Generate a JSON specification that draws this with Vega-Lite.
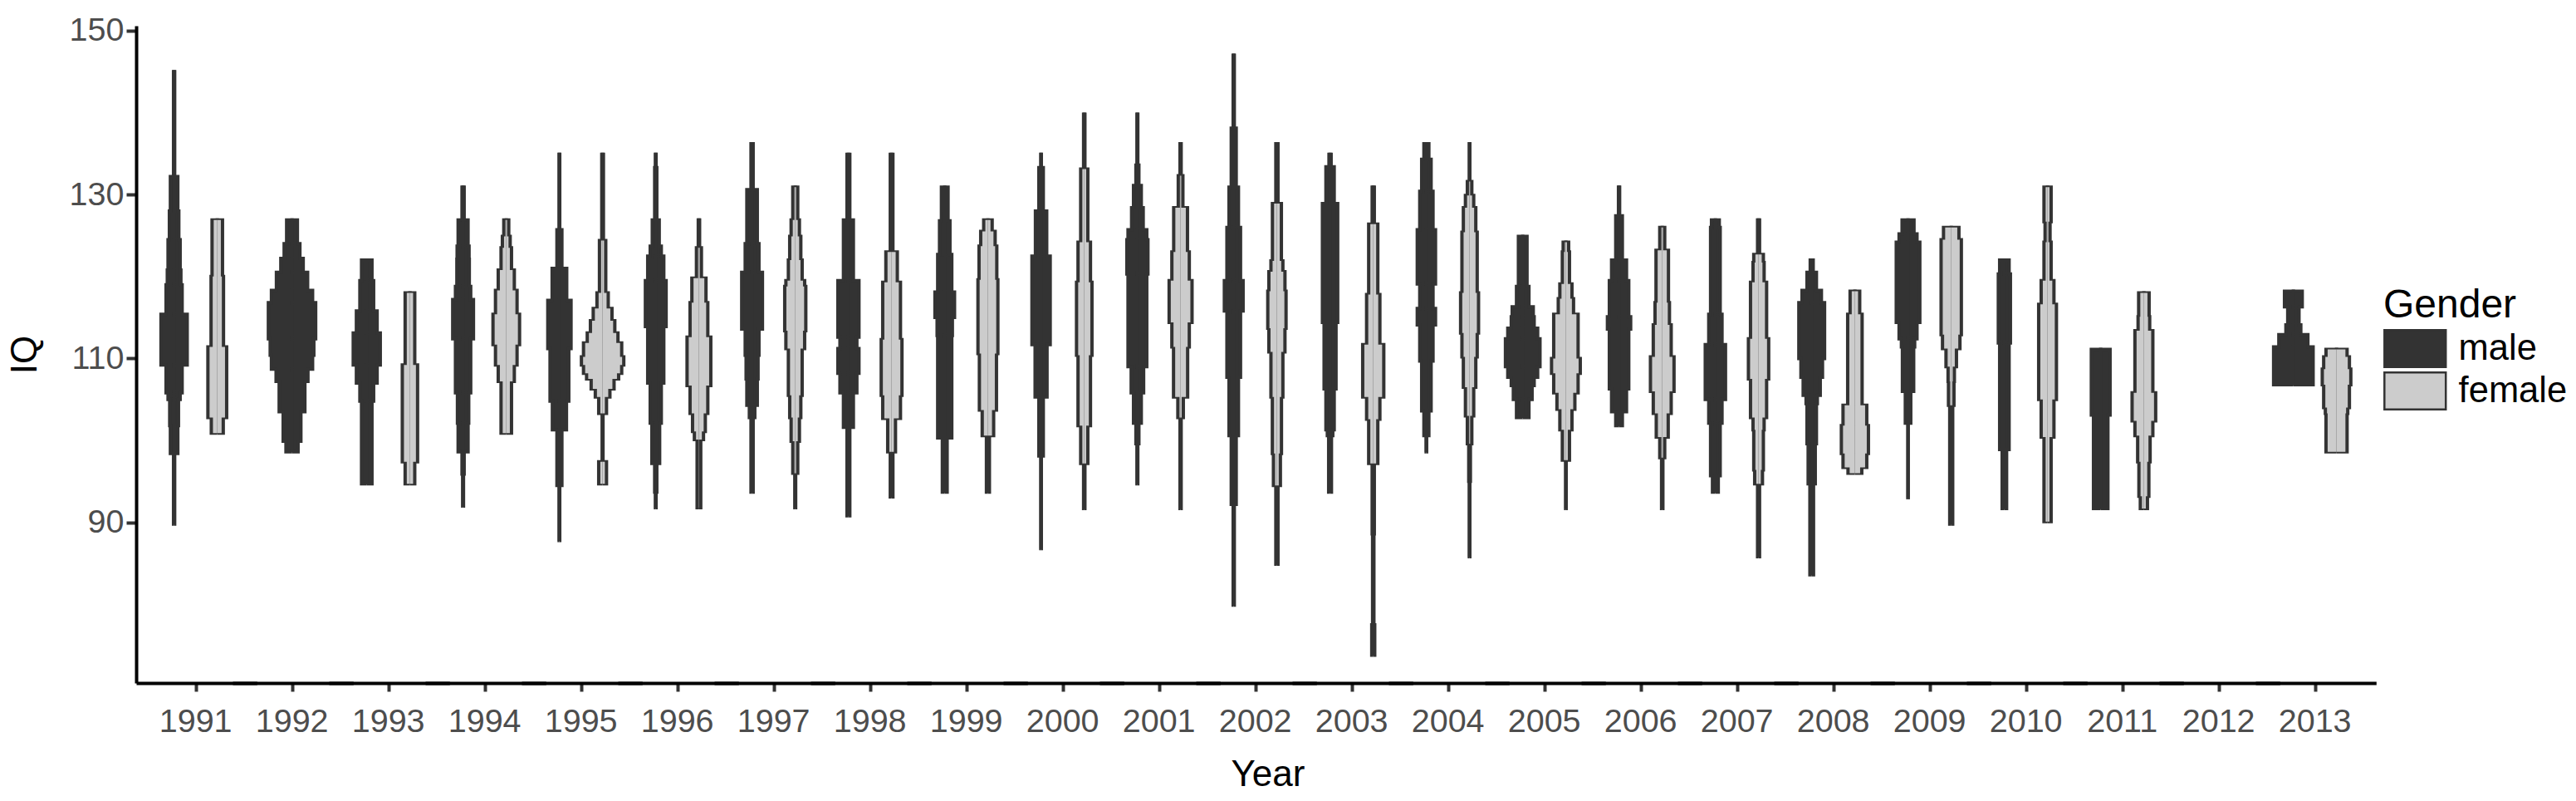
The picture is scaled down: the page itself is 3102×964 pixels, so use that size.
{
"$schema": "https://vega.github.io/schema/vega-lite/v6.json",
"padding": {"left": 8, "top": 16, "right": 5, "bottom": 5},
"background": "white",
"bounds": "flush",
"config": {"font": "Liberation Sans", "view": {"stroke": null}, "axis": {"grid": false}},
"datasets": {"v": [
{"Year":"1991","Gender":"male","IQ":89.75,"Density":0},{"Year":"1991","Gender":"male","IQ":89.8,"Density":0.7},{"Year":"1991","Gender":"male","IQ":98.4,"Density":4.5},{"Year":"1991","Gender":"male","IQ":101.8,"Density":5.3},{"Year":"1991","Gender":"male","IQ":105.0,"Density":7.3},{"Year":"1991","Gender":"male","IQ":105.8,"Density":9.7},{"Year":"1991","Gender":"male","IQ":109.2,"Density":15.8},{"Year":"1991","Gender":"male","IQ":115.4,"Density":9.7},{"Year":"1991","Gender":"male","IQ":119.0,"Density":8.2},{"Year":"1991","Gender":"male","IQ":120.8,"Density":7.3},{"Year":"1991","Gender":"male","IQ":124.5,"Density":5.7},{"Year":"1991","Gender":"male","IQ":128.0,"Density":4.5},{"Year":"1991","Gender":"male","IQ":132.2,"Density":0.7},{"Year":"1991","Gender":"male","IQ":145.0,"Density":0},
{"Year":"1991","Gender":"female","IQ":100.85,"Density":0},{"Year":"1991","Gender":"female","IQ":100.9,"Density":7.2},{"Year":"1991","Gender":"female","IQ":102.8,"Density":11.3},{"Year":"1991","Gender":"female","IQ":111.4,"Density":7.5},{"Year":"1991","Gender":"female","IQ":120.0,"Density":6.3},{"Year":"1991","Gender":"female","IQ":126.9,"Density":0},
{"Year":"1992","Gender":"male","IQ":98.55,"Density":0},{"Year":"1992","Gender":"male","IQ":98.6,"Density":7.3},{"Year":"1992","Gender":"male","IQ":99.9,"Density":10.7},{"Year":"1992","Gender":"male","IQ":103.5,"Density":15.5},{"Year":"1992","Gender":"male","IQ":107.2,"Density":19.2},{"Year":"1992","Gender":"male","IQ":108.7,"Density":24.8},{"Year":"1992","Gender":"male","IQ":110.4,"Density":26.3},{"Year":"1992","Gender":"male","IQ":112.4,"Density":28.5},{"Year":"1992","Gender":"male","IQ":116.8,"Density":24.8},{"Year":"1992","Gender":"male","IQ":118.3,"Density":18.8},{"Year":"1992","Gender":"male","IQ":120.5,"Density":13.5},{"Year":"1992","Gender":"male","IQ":122.2,"Density":9.5},{"Year":"1992","Gender":"male","IQ":124.0,"Density":6.5},{"Year":"1992","Gender":"male","IQ":126.9,"Density":0},
{"Year":"1993","Gender":"male","IQ":94.65,"Density":0},{"Year":"1993","Gender":"male","IQ":94.7,"Density":6.3},{"Year":"1993","Gender":"male","IQ":104.8,"Density":8.3},{"Year":"1993","Gender":"male","IQ":107.0,"Density":12.5},{"Year":"1993","Gender":"male","IQ":109.2,"Density":16.3},{"Year":"1993","Gender":"male","IQ":113.1,"Density":12.5},{"Year":"1993","Gender":"male","IQ":115.8,"Density":8.3},{"Year":"1993","Gender":"male","IQ":119.5,"Density":6.3},{"Year":"1993","Gender":"male","IQ":122.0,"Density":0},
{"Year":"1993","Gender":"female","IQ":94.65,"Density":0},{"Year":"1993","Gender":"female","IQ":94.7,"Density":5.8},{"Year":"1993","Gender":"female","IQ":97.4,"Density":9.2},{"Year":"1993","Gender":"female","IQ":109.2,"Density":5.8},{"Year":"1993","Gender":"female","IQ":118.0,"Density":0},
{"Year":"1994","Gender":"male","IQ":91.95,"Density":0},{"Year":"1994","Gender":"male","IQ":92.0,"Density":0.5},{"Year":"1994","Gender":"male","IQ":95.9,"Density":1.3},{"Year":"1994","Gender":"male","IQ":98.6,"Density":6},{"Year":"1994","Gender":"male","IQ":102.1,"Density":6.8},{"Year":"1994","Gender":"male","IQ":105.8,"Density":9.2},{"Year":"1994","Gender":"male","IQ":112.4,"Density":12.5},{"Year":"1994","Gender":"male","IQ":117.2,"Density":9.2},{"Year":"1994","Gender":"male","IQ":118.8,"Density":7.5},{"Year":"1994","Gender":"male","IQ":122.1,"Density":7.2},{"Year":"1994","Gender":"male","IQ":123.7,"Density":6},{"Year":"1994","Gender":"male","IQ":126.9,"Density":1.3},{"Year":"1994","Gender":"male","IQ":130.9,"Density":0},
{"Year":"1994","Gender":"female","IQ":100.85,"Density":0},{"Year":"1994","Gender":"female","IQ":100.9,"Density":6.3},{"Year":"1994","Gender":"female","IQ":107.2,"Density":9.7},{"Year":"1994","Gender":"female","IQ":109.2,"Density":13},{"Year":"1994","Gender":"female","IQ":111.7,"Density":16},{"Year":"1994","Gender":"female","IQ":115.4,"Density":13},{"Year":"1994","Gender":"female","IQ":118.3,"Density":9.7},{"Year":"1994","Gender":"female","IQ":120.8,"Density":6.3},{"Year":"1994","Gender":"female","IQ":123.5,"Density":4.7},{"Year":"1994","Gender":"female","IQ":124.9,"Density":3},{"Year":"1994","Gender":"female","IQ":126.9,"Density":0},
{"Year":"1995","Gender":"male","IQ":87.75,"Density":0},{"Year":"1995","Gender":"male","IQ":87.8,"Density":0.4},{"Year":"1995","Gender":"male","IQ":94.5,"Density":3},{"Year":"1995","Gender":"male","IQ":101.3,"Density":8.5},{"Year":"1995","Gender":"male","IQ":104.8,"Density":11.3},{"Year":"1995","Gender":"male","IQ":111.2,"Density":14},{"Year":"1995","Gender":"male","IQ":117.1,"Density":8.8},{"Year":"1995","Gender":"male","IQ":121.0,"Density":3},{"Year":"1995","Gender":"male","IQ":125.7,"Density":0.4},{"Year":"1995","Gender":"male","IQ":134.9,"Density":0},
{"Year":"1995","Gender":"female","IQ":94.65,"Density":0},{"Year":"1995","Gender":"female","IQ":94.7,"Density":4.7},{"Year":"1995","Gender":"female","IQ":97.4,"Density":0.5},{"Year":"1995","Gender":"female","IQ":103.3,"Density":4.7},{"Year":"1995","Gender":"female","IQ":105.3,"Density":8.8},{"Year":"1995","Gender":"female","IQ":106.3,"Density":13.8},{"Year":"1995","Gender":"female","IQ":107.5,"Density":19.3},{"Year":"1995","Gender":"female","IQ":108.2,"Density":23},{"Year":"1995","Gender":"female","IQ":109.2,"Density":25.5},{"Year":"1995","Gender":"female","IQ":110.2,"Density":23},{"Year":"1995","Gender":"female","IQ":111.9,"Density":18.5},{"Year":"1995","Gender":"female","IQ":113.1,"Density":14.7},{"Year":"1995","Gender":"female","IQ":114.6,"Density":11.3},{"Year":"1995","Gender":"female","IQ":116.1,"Density":6.8},{"Year":"1995","Gender":"female","IQ":118.0,"Density":3.8},{"Year":"1995","Gender":"female","IQ":124.4,"Density":1.0},{"Year":"1995","Gender":"female","IQ":134.9,"Density":0},
{"Year":"1996","Gender":"male","IQ":91.75,"Density":0},{"Year":"1996","Gender":"male","IQ":91.8,"Density":0.4},{"Year":"1996","Gender":"male","IQ":93.7,"Density":1.3},{"Year":"1996","Gender":"male","IQ":97.2,"Density":4.7},{"Year":"1996","Gender":"male","IQ":102.1,"Density":6.7},{"Year":"1996","Gender":"male","IQ":107.0,"Density":9.7},{"Year":"1996","Gender":"male","IQ":113.9,"Density":12.5},{"Year":"1996","Gender":"male","IQ":119.5,"Density":9.7},{"Year":"1996","Gender":"male","IQ":122.5,"Density":6.7},{"Year":"1996","Gender":"male","IQ":123.7,"Density":4.2},{"Year":"1996","Gender":"male","IQ":126.9,"Density":1.3},{"Year":"1996","Gender":"male","IQ":133.3,"Density":0.4},{"Year":"1996","Gender":"male","IQ":134.9,"Density":0},
{"Year":"1996","Gender":"female","IQ":91.75,"Density":0},{"Year":"1996","Gender":"female","IQ":91.8,"Density":2.2},{"Year":"1996","Gender":"female","IQ":100.1,"Density":5.5},{"Year":"1996","Gender":"female","IQ":101.1,"Density":7.7},{"Year":"1996","Gender":"female","IQ":103.3,"Density":10.7},{"Year":"1996","Gender":"female","IQ":106.7,"Density":14.3},{"Year":"1996","Gender":"female","IQ":112.6,"Density":10.7},{"Year":"1996","Gender":"female","IQ":116.8,"Density":8.5},{"Year":"1996","Gender":"female","IQ":119.8,"Density":3},{"Year":"1996","Gender":"female","IQ":123.5,"Density":0.8},{"Year":"1996","Gender":"female","IQ":126.9,"Density":0},
{"Year":"1997","Gender":"male","IQ":93.65,"Density":0},{"Year":"1997","Gender":"male","IQ":93.7,"Density":1.3},{"Year":"1997","Gender":"male","IQ":102.8,"Density":3.3},{"Year":"1997","Gender":"male","IQ":104.3,"Density":6.3},{"Year":"1997","Gender":"male","IQ":107.5,"Density":7.2},{"Year":"1997","Gender":"male","IQ":110.4,"Density":8.3},{"Year":"1997","Gender":"male","IQ":113.6,"Density":12.5},{"Year":"1997","Gender":"male","IQ":120.5,"Density":8.3},{"Year":"1997","Gender":"male","IQ":124.0,"Density":6.3},{"Year":"1997","Gender":"male","IQ":130.6,"Density":1.3},{"Year":"1997","Gender":"male","IQ":136.2,"Density":0},
{"Year":"1997","Gender":"female","IQ":91.75,"Density":0},{"Year":"1997","Gender":"female","IQ":91.8,"Density":0.5},{"Year":"1997","Gender":"female","IQ":96.0,"Density":3},{"Year":"1997","Gender":"female","IQ":99.9,"Density":5},{"Year":"1997","Gender":"female","IQ":102.8,"Density":6.7},{"Year":"1997","Gender":"female","IQ":105.5,"Density":8.3},{"Year":"1997","Gender":"female","IQ":111.2,"Density":11.3},{"Year":"1997","Gender":"female","IQ":113.4,"Density":12.7},{"Year":"1997","Gender":"female","IQ":118.8,"Density":11.3},{"Year":"1997","Gender":"female","IQ":119.5,"Density":8.3},{"Year":"1997","Gender":"female","IQ":122.0,"Density":6.7},{"Year":"1997","Gender":"female","IQ":124.9,"Density":5},{"Year":"1997","Gender":"female","IQ":126.9,"Density":3},{"Year":"1997","Gender":"female","IQ":130.9,"Density":0},
{"Year":"1998","Gender":"male","IQ":90.75,"Density":0},{"Year":"1998","Gender":"male","IQ":90.8,"Density":1.7},{"Year":"1998","Gender":"male","IQ":101.6,"Density":6},{"Year":"1998","Gender":"male","IQ":105.8,"Density":10.2},{"Year":"1998","Gender":"male","IQ":108.2,"Density":12.7},{"Year":"1998","Gender":"male","IQ":111.2,"Density":10.2},{"Year":"1998","Gender":"male","IQ":112.6,"Density":12.7},{"Year":"1998","Gender":"male","IQ":119.5,"Density":6},{"Year":"1998","Gender":"male","IQ":126.9,"Density":1.7},{"Year":"1998","Gender":"male","IQ":134.9,"Density":0},
{"Year":"1998","Gender":"female","IQ":93.05,"Density":0},{"Year":"1998","Gender":"female","IQ":93.1,"Density":1.6},{"Year":"1998","Gender":"female","IQ":98.6,"Density":4.7},{"Year":"1998","Gender":"female","IQ":102.7,"Density":10.7},{"Year":"1998","Gender":"female","IQ":105.5,"Density":12.5},{"Year":"1998","Gender":"female","IQ":112.3,"Density":10.7},{"Year":"1998","Gender":"female","IQ":119.3,"Density":6.9},{"Year":"1998","Gender":"female","IQ":123.0,"Density":1.6},{"Year":"1998","Gender":"female","IQ":134.9,"Density":0},
{"Year":"1999","Gender":"male","IQ":93.65,"Density":0},{"Year":"1999","Gender":"male","IQ":93.7,"Density":2.9},{"Year":"1999","Gender":"male","IQ":100.3,"Density":8.5},{"Year":"1999","Gender":"male","IQ":112.8,"Density":9.2},{"Year":"1999","Gender":"male","IQ":115.0,"Density":11.8},{"Year":"1999","Gender":"male","IQ":118.1,"Density":8.5},{"Year":"1999","Gender":"male","IQ":122.7,"Density":6.3},{"Year":"1999","Gender":"male","IQ":126.8,"Density":4},{"Year":"1999","Gender":"male","IQ":130.9,"Density":0},
{"Year":"1999","Gender":"female","IQ":93.65,"Density":0},{"Year":"1999","Gender":"female","IQ":93.7,"Density":1.8},{"Year":"1999","Gender":"female","IQ":100.6,"Density":6.9},{"Year":"1999","Gender":"female","IQ":103.7,"Density":10.3},{"Year":"1999","Gender":"female","IQ":110.6,"Density":12},{"Year":"1999","Gender":"female","IQ":119.6,"Density":10.7},{"Year":"1999","Gender":"female","IQ":123.7,"Density":8.7},{"Year":"1999","Gender":"female","IQ":125.5,"Density":5.1},{"Year":"1999","Gender":"female","IQ":126.9,"Density":0},
{"Year":"2000","Gender":"male","IQ":86.75,"Density":0},{"Year":"2000","Gender":"male","IQ":86.8,"Density":0.3},{"Year":"2000","Gender":"male","IQ":98.1,"Density":2.7},{"Year":"2000","Gender":"male","IQ":105.3,"Density":7.2},{"Year":"2000","Gender":"male","IQ":111.7,"Density":11},{"Year":"2000","Gender":"male","IQ":122.5,"Density":6.8},{"Year":"2000","Gender":"male","IQ":128.0,"Density":2.7},{"Year":"2000","Gender":"male","IQ":133.3,"Density":0.3},{"Year":"2000","Gender":"male","IQ":134.9,"Density":0},
{"Year":"2000","Gender":"female","IQ":91.65,"Density":0},{"Year":"2000","Gender":"female","IQ":91.7,"Density":0.8},{"Year":"2000","Gender":"female","IQ":97.2,"Density":4.3},{"Year":"2000","Gender":"female","IQ":101.8,"Density":7.5},{"Year":"2000","Gender":"female","IQ":110.4,"Density":9.3},{"Year":"2000","Gender":"female","IQ":119.3,"Density":7.5},{"Year":"2000","Gender":"female","IQ":124.2,"Density":4.3},{"Year":"2000","Gender":"female","IQ":133.1,"Density":0.8},{"Year":"2000","Gender":"female","IQ":139.8,"Density":0},
{"Year":"2001","Gender":"male","IQ":94.65,"Density":0},{"Year":"2001","Gender":"male","IQ":94.7,"Density":0.5},{"Year":"2001","Gender":"male","IQ":99.6,"Density":1.8},{"Year":"2001","Gender":"male","IQ":102.1,"Density":4.7},{"Year":"2001","Gender":"male","IQ":105.8,"Density":7.5},{"Year":"2001","Gender":"male","IQ":109.0,"Density":11.3},{"Year":"2001","Gender":"male","IQ":120.3,"Density":12.7},{"Year":"2001","Gender":"male","IQ":124.5,"Density":11.3},{"Year":"2001","Gender":"male","IQ":125.7,"Density":7},{"Year":"2001","Gender":"male","IQ":128.4,"Density":4.7},{"Year":"2001","Gender":"male","IQ":131.1,"Density":1.8},{"Year":"2001","Gender":"male","IQ":133.6,"Density":0.5},{"Year":"2001","Gender":"male","IQ":139.8,"Density":0},
{"Year":"2001","Gender":"female","IQ":91.65,"Density":0},{"Year":"2001","Gender":"female","IQ":91.7,"Density":0.7},{"Year":"2001","Gender":"female","IQ":102.8,"Density":3.3},{"Year":"2001","Gender":"female","IQ":105.3,"Density":8.5},{"Year":"2001","Gender":"female","IQ":111.4,"Density":10.5},{"Year":"2001","Gender":"female","IQ":114.4,"Density":13.8},{"Year":"2001","Gender":"female","IQ":119.5,"Density":10.5},{"Year":"2001","Gender":"female","IQ":123.0,"Density":8.3},{"Year":"2001","Gender":"female","IQ":128.4,"Density":2.8},{"Year":"2001","Gender":"female","IQ":132.3,"Density":0.7},{"Year":"2001","Gender":"female","IQ":136.2,"Density":0},
{"Year":"2002","Gender":"male","IQ":79.85,"Density":0},{"Year":"2002","Gender":"male","IQ":79.9,"Density":0.7},{"Year":"2002","Gender":"male","IQ":92.2,"Density":3},{"Year":"2002","Gender":"male","IQ":100.6,"Density":5.7},{"Year":"2002","Gender":"male","IQ":107.7,"Density":8.2},{"Year":"2002","Gender":"male","IQ":115.8,"Density":11.3},{"Year":"2002","Gender":"male","IQ":119.5,"Density":8.2},{"Year":"2002","Gender":"male","IQ":126.0,"Density":5.7},{"Year":"2002","Gender":"male","IQ":130.9,"Density":3},{"Year":"2002","Gender":"male","IQ":138.1,"Density":0.7},{"Year":"2002","Gender":"male","IQ":147.0,"Density":0},
{"Year":"2002","Gender":"female","IQ":84.85,"Density":0},{"Year":"2002","Gender":"female","IQ":84.9,"Density":1.3},{"Year":"2002","Gender":"female","IQ":94.5,"Density":4.2},{"Year":"2002","Gender":"female","IQ":98.4,"Density":5.5},{"Year":"2002","Gender":"female","IQ":105.3,"Density":7.2},{"Year":"2002","Gender":"female","IQ":110.8,"Density":9.7},{"Year":"2002","Gender":"female","IQ":113.7,"Density":11},{"Year":"2002","Gender":"female","IQ":118.2,"Density":9.7},{"Year":"2002","Gender":"female","IQ":120.6,"Density":7.2},{"Year":"2002","Gender":"female","IQ":121.9,"Density":5.4},{"Year":"2002","Gender":"female","IQ":128.9,"Density":1.3},{"Year":"2002","Gender":"female","IQ":136.2,"Density":0},
{"Year":"2003","Gender":"male","IQ":93.65,"Density":0},{"Year":"2003","Gender":"male","IQ":93.7,"Density":1.7},{"Year":"2003","Gender":"male","IQ":100.6,"Density":3.3},{"Year":"2003","Gender":"male","IQ":101.3,"Density":5},{"Year":"2003","Gender":"male","IQ":106.3,"Density":7.2},{"Year":"2003","Gender":"male","IQ":114.4,"Density":9.2},{"Year":"2003","Gender":"male","IQ":128.9,"Density":5},{"Year":"2003","Gender":"male","IQ":133.4,"Density":1.3},{"Year":"2003","Gender":"male","IQ":134.9,"Density":0},
{"Year":"2003","Gender":"female","IQ":73.75,"Density":0},{"Year":"2003","Gender":"female","IQ":73.8,"Density":1.8},{"Year":"2003","Gender":"female","IQ":77.5,"Density":0.8},{"Year":"2003","Gender":"female","IQ":88.6,"Density":1.3},{"Year":"2003","Gender":"female","IQ":97.2,"Density":5.5},{"Year":"2003","Gender":"female","IQ":102.6,"Density":8},{"Year":"2003","Gender":"female","IQ":105.3,"Density":12.7},{"Year":"2003","Gender":"female","IQ":111.7,"Density":8},{"Year":"2003","Gender":"female","IQ":117.8,"Density":5.5},{"Year":"2003","Gender":"female","IQ":126.4,"Density":1.3},{"Year":"2003","Gender":"female","IQ":130.9,"Density":0},
{"Year":"2004","Gender":"male","IQ":98.55,"Density":0},{"Year":"2004","Gender":"male","IQ":98.6,"Density":0.3},{"Year":"2004","Gender":"male","IQ":100.6,"Density":3},{"Year":"2004","Gender":"male","IQ":103.6,"Density":5.7},{"Year":"2004","Gender":"male","IQ":109.7,"Density":8},{"Year":"2004","Gender":"male","IQ":114.1,"Density":11},{"Year":"2004","Gender":"male","IQ":116.1,"Density":8},{"Year":"2004","Gender":"male","IQ":119.1,"Density":11},{"Year":"2004","Gender":"male","IQ":125.7,"Density":8},{"Year":"2004","Gender":"male","IQ":130.4,"Density":5.7},{"Year":"2004","Gender":"male","IQ":134.3,"Density":3},{"Year":"2004","Gender":"male","IQ":136.2,"Density":0},
{"Year":"2004","Gender":"female","IQ":85.75,"Density":0},{"Year":"2004","Gender":"female","IQ":85.8,"Density":0.3},{"Year":"2004","Gender":"female","IQ":95.0,"Density":1},{"Year":"2004","Gender":"female","IQ":99.6,"Density":2.7},{"Year":"2004","Gender":"female","IQ":103.0,"Density":5},{"Year":"2004","Gender":"female","IQ":106.5,"Density":7.5},{"Year":"2004","Gender":"female","IQ":110.2,"Density":9.2},{"Year":"2004","Gender":"female","IQ":113.1,"Density":10.8},{"Year":"2004","Gender":"female","IQ":118.0,"Density":9.2},{"Year":"2004","Gender":"female","IQ":125.4,"Density":7.5},{"Year":"2004","Gender":"female","IQ":128.4,"Density":5},{"Year":"2004","Gender":"female","IQ":129.9,"Density":2.7},{"Year":"2004","Gender":"female","IQ":131.6,"Density":0.3},{"Year":"2004","Gender":"female","IQ":136.2,"Density":0},
{"Year":"2005","Gender":"male","IQ":102.75,"Density":0},{"Year":"2005","Gender":"male","IQ":102.8,"Density":7.5},{"Year":"2005","Gender":"male","IQ":105.0,"Density":11.3},{"Year":"2005","Gender":"male","IQ":106.7,"Density":13.8},{"Year":"2005","Gender":"male","IQ":107.7,"Density":18},{"Year":"2005","Gender":"male","IQ":109.0,"Density":20.8},{"Year":"2005","Gender":"male","IQ":112.4,"Density":18},{"Year":"2005","Gender":"male","IQ":113.7,"Density":13.8},{"Year":"2005","Gender":"male","IQ":115.1,"Density":12.7},{"Year":"2005","Gender":"male","IQ":116.3,"Density":7.5},{"Year":"2005","Gender":"male","IQ":118.8,"Density":5.2},{"Year":"2005","Gender":"male","IQ":124.9,"Density":0},
{"Year":"2005","Gender":"female","IQ":91.65,"Density":0},{"Year":"2005","Gender":"female","IQ":91.7,"Density":0.3},{"Year":"2005","Gender":"female","IQ":97.6,"Density":4.3},{"Year":"2005","Gender":"female","IQ":101.3,"Density":7.3},{"Year":"2005","Gender":"female","IQ":103.8,"Density":10.8},{"Year":"2005","Gender":"female","IQ":105.8,"Density":14.7},{"Year":"2005","Gender":"female","IQ":108.2,"Density":17.3},{"Year":"2005","Gender":"female","IQ":110.0,"Density":14.7},{"Year":"2005","Gender":"female","IQ":115.4,"Density":9.2},{"Year":"2005","Gender":"female","IQ":117.3,"Density":7.3},{"Year":"2005","Gender":"female","IQ":119.1,"Density":4.3},{"Year":"2005","Gender":"female","IQ":123.0,"Density":3.3},{"Year":"2005","Gender":"female","IQ":124.2,"Density":0},
{"Year":"2006","Gender":"male","IQ":101.75,"Density":0},{"Year":"2006","Gender":"male","IQ":101.8,"Density":4},{"Year":"2006","Gender":"male","IQ":103.5,"Density":9},{"Year":"2006","Gender":"male","IQ":106.3,"Density":11.7},{"Year":"2006","Gender":"male","IQ":113.6,"Density":14},{"Year":"2006","Gender":"male","IQ":115.1,"Density":11.7},{"Year":"2006","Gender":"male","IQ":119.5,"Density":9},{"Year":"2006","Gender":"male","IQ":122.0,"Density":4},{"Year":"2006","Gender":"male","IQ":127.4,"Density":0.7},{"Year":"2006","Gender":"male","IQ":130.9,"Density":0},
{"Year":"2006","Gender":"female","IQ":91.65,"Density":0},{"Year":"2006","Gender":"female","IQ":91.7,"Density":0.8},{"Year":"2006","Gender":"female","IQ":97.9,"Density":3},{"Year":"2006","Gender":"female","IQ":100.4,"Density":7.2},{"Year":"2006","Gender":"female","IQ":103.3,"Density":10.8},{"Year":"2006","Gender":"female","IQ":106.0,"Density":14.2},{"Year":"2006","Gender":"female","IQ":110.2,"Density":10.8},{"Year":"2006","Gender":"female","IQ":114.1,"Density":8.7},{"Year":"2006","Gender":"female","IQ":116.8,"Density":7.5},{"Year":"2006","Gender":"female","IQ":123.2,"Density":3},{"Year":"2006","Gender":"female","IQ":126.0,"Density":0},
{"Year":"2007","Gender":"male","IQ":93.65,"Density":0},{"Year":"2007","Gender":"male","IQ":93.7,"Density":3.5},{"Year":"2007","Gender":"male","IQ":95.7,"Density":5.8},{"Year":"2007","Gender":"male","IQ":102.1,"Density":8},{"Year":"2007","Gender":"male","IQ":105.0,"Density":12.2},{"Year":"2007","Gender":"male","IQ":111.7,"Density":8},{"Year":"2007","Gender":"male","IQ":115.4,"Density":5.8},{"Year":"2007","Gender":"male","IQ":126.0,"Density":4.7},{"Year":"2007","Gender":"male","IQ":126.9,"Density":0},
{"Year":"2007","Gender":"female","IQ":85.75,"Density":0},{"Year":"2007","Gender":"female","IQ":85.8,"Density":1.2},{"Year":"2007","Gender":"female","IQ":94.7,"Density":4.7},{"Year":"2007","Gender":"female","IQ":96.4,"Density":5.8},{"Year":"2007","Gender":"female","IQ":101.3,"Density":6.7},{"Year":"2007","Gender":"female","IQ":102.8,"Density":9.7},{"Year":"2007","Gender":"female","IQ":107.5,"Density":12.2},{"Year":"2007","Gender":"female","IQ":112.4,"Density":9.7},{"Year":"2007","Gender":"female","IQ":119.3,"Density":6.7},{"Year":"2007","Gender":"female","IQ":121.7,"Density":5.8},{"Year":"2007","Gender":"female","IQ":122.7,"Density":1.2},{"Year":"2007","Gender":"female","IQ":126.9,"Density":0},
{"Year":"2008","Gender":"male","IQ":83.55,"Density":0},{"Year":"2008","Gender":"male","IQ":83.6,"Density":2.2},{"Year":"2008","Gender":"male","IQ":94.7,"Density":4.3},{"Year":"2008","Gender":"male","IQ":99.6,"Density":5.7},{"Year":"2008","Gender":"male","IQ":104.5,"Density":6.8},{"Year":"2008","Gender":"male","IQ":105.5,"Density":10.3},{"Year":"2008","Gender":"male","IQ":107.7,"Density":13},{"Year":"2008","Gender":"male","IQ":110.0,"Density":15.5},{"Year":"2008","Gender":"male","IQ":116.8,"Density":11.7},{"Year":"2008","Gender":"male","IQ":118.3,"Density":5.7},{"Year":"2008","Gender":"male","IQ":120.5,"Density":1.8},{"Year":"2008","Gender":"male","IQ":122.0,"Density":0},
{"Year":"2008","Gender":"female","IQ":95.95,"Density":0},{"Year":"2008","Gender":"female","IQ":96.0,"Density":8.3},{"Year":"2008","Gender":"female","IQ":96.7,"Density":14.3},{"Year":"2008","Gender":"female","IQ":98.4,"Density":16.3},{"Year":"2008","Gender":"female","IQ":101.8,"Density":14.3},{"Year":"2008","Gender":"female","IQ":104.3,"Density":8.7},{"Year":"2008","Gender":"female","IQ":115.4,"Density":5.8},{"Year":"2008","Gender":"female","IQ":118.2,"Density":0},
{"Year":"2009","Gender":"male","IQ":92.95,"Density":0},{"Year":"2009","Gender":"male","IQ":93.0,"Density":0.2},{"Year":"2009","Gender":"male","IQ":102.1,"Density":3.3},{"Year":"2009","Gender":"male","IQ":106.0,"Density":6.8},{"Year":"2009","Gender":"male","IQ":111.4,"Density":8},{"Year":"2009","Gender":"male","IQ":112.4,"Density":10.8},{"Year":"2009","Gender":"male","IQ":114.4,"Density":14.2},{"Year":"2009","Gender":"male","IQ":124.2,"Density":10.8},{"Year":"2009","Gender":"male","IQ":125.2,"Density":7.2},{"Year":"2009","Gender":"male","IQ":126.9,"Density":0},
{"Year":"2009","Gender":"female","IQ":89.75,"Density":0},{"Year":"2009","Gender":"female","IQ":89.8,"Density":1.8},{"Year":"2009","Gender":"female","IQ":104.3,"Density":3.3},{"Year":"2009","Gender":"female","IQ":107.2,"Density":3.8},{"Year":"2009","Gender":"female","IQ":109.0,"Density":6.3},{"Year":"2009","Gender":"female","IQ":111.2,"Density":10.5},{"Year":"2009","Gender":"female","IQ":112.9,"Density":12.2},{"Year":"2009","Gender":"female","IQ":124.5,"Density":9.3},{"Year":"2009","Gender":"female","IQ":126.0,"Density":0},
{"Year":"2010","Gender":"male","IQ":91.65,"Density":0},{"Year":"2010","Gender":"male","IQ":91.7,"Density":2.7},{"Year":"2010","Gender":"male","IQ":98.9,"Density":5.7},{"Year":"2010","Gender":"male","IQ":111.9,"Density":7.3},{"Year":"2010","Gender":"male","IQ":120.3,"Density":5.7},{"Year":"2010","Gender":"male","IQ":122.0,"Density":0},
{"Year":"2010","Gender":"female","IQ":90.05,"Density":0},{"Year":"2010","Gender":"female","IQ":90.1,"Density":4.3},{"Year":"2010","Gender":"female","IQ":100.4,"Density":7.7},{"Year":"2010","Gender":"female","IQ":105.0,"Density":10.7},{"Year":"2010","Gender":"female","IQ":116.6,"Density":7.7},{"Year":"2010","Gender":"female","IQ":119.5,"Density":4.3},{"Year":"2010","Gender":"female","IQ":124.2,"Density":3},{"Year":"2010","Gender":"female","IQ":126.7,"Density":4.3},{"Year":"2010","Gender":"female","IQ":130.9,"Density":0},
{"Year":"2011","Gender":"male","IQ":91.65,"Density":0},{"Year":"2011","Gender":"male","IQ":91.7,"Density":8.7},{"Year":"2011","Gender":"male","IQ":103.1,"Density":11.3},{"Year":"2011","Gender":"male","IQ":111.1,"Density":0},
{"Year":"2011","Gender":"female","IQ":91.65,"Density":0},{"Year":"2011","Gender":"female","IQ":91.7,"Density":4.3},{"Year":"2011","Gender":"female","IQ":93.2,"Density":6},{"Year":"2011","Gender":"female","IQ":97.4,"Density":7.5},{"Year":"2011","Gender":"female","IQ":100.6,"Density":10.8},{"Year":"2011","Gender":"female","IQ":102.4,"Density":14.2},{"Year":"2011","Gender":"female","IQ":105.8,"Density":10.8},{"Year":"2011","Gender":"female","IQ":113.4,"Density":7},{"Year":"2011","Gender":"female","IQ":115.1,"Density":6.3},{"Year":"2011","Gender":"female","IQ":118.0,"Density":0},
{"Year":"2012"},
{"Year":"2013","Gender":"male","IQ":106.75,"Density":0},{"Year":"2013","Gender":"male","IQ":106.8,"Density":23.8},{"Year":"2013","Gender":"male","IQ":111.4,"Density":17.5},{"Year":"2013","Gender":"male","IQ":112.9,"Density":9},{"Year":"2013","Gender":"male","IQ":114.1,"Density":6.8},{"Year":"2013","Gender":"male","IQ":116.3,"Density":10.7},{"Year":"2013","Gender":"male","IQ":118.2,"Density":0},
{"Year":"2013","Gender":"female","IQ":98.55,"Density":0},{"Year":"2013","Gender":"female","IQ":98.6,"Density":12.7},{"Year":"2013","Gender":"female","IQ":103.3,"Density":13.5},{"Year":"2013","Gender":"female","IQ":104.0,"Density":15.5},{"Year":"2013","Gender":"female","IQ":106.8,"Density":17.2},{"Year":"2013","Gender":"female","IQ":108.7,"Density":15.5},{"Year":"2013","Gender":"female","IQ":110.2,"Density":12.7},{"Year":"2013","Gender":"female","IQ":111.1,"Density":0}
]},
"data": {"name": "v"},
"facet": {"column": {"field": "Year", "type": "nominal", "title": "Year", "header": {"labelOrient": "bottom", "titleOrient": "bottom", "labelFontSize": 39.5, "labelColor": "#4d4d4d", "labelPadding": 28, "titleFontSize": 44, "titleColor": "#000000", "titleFontWeight": "normal", "titlePadding": 12}}},
"spacing": 0,
"resolve": {"scale": {"x": "independent"}},
"spec": {
"width": 115.3,
"height": 791,
"resolve": {"scale": {"x": "independent"}},
"layer": [
{"mark": {"type": "point", "opacity": 0},
 "encoding": {"x": {"datum": 57.65, "type": "quantitative", "scale": {"domain": [-14, 131.3], "range": [-14, 131.3], "nice": false, "zero": false}, "axis": {"orient": "bottom", "values": [57.65], "labels": false, "title": null, "domainColor": "#000000", "domainWidth": 4, "domainCap": "butt", "tickColor": "#333333", "tickWidth": 4, "tickSize": 10, "grid": false}}}},
{"transform": [{"filter": "datum.Gender == 'male' && datum.Year != '1992'"}],
 "mark": {"type": "area", "orient": "horizontal", "interpolate": "step-after", "stroke": "#333333", "strokeWidth": 4},
 "encoding": {
  "y": {"field": "IQ", "type": "quantitative", "scale": {"domain": [70.4, 150.6], "nice": false, "zero": false}, "axis": {"values": [90, 110, 130, 150], "title": "IQ", "offset": 14, "domainColor": "#000000", "domainWidth": 4, "tickColor": "#333333", "tickWidth": 4, "tickSize": 12, "labelFontSize": 39.5, "labelColor": "#4d4d4d", "labelPadding": 3, "titleFontSize": 44, "titleColor": "#000000", "titleFontWeight": "normal", "titlePadding": 40, "titleBaseline": "alphabetic", "grid": false}},
  "x": {"field": "Density", "type": "quantitative", "stack": null, "scale": {"domain": [0, 40], "range": [31.65, -8.35], "nice": false}, "axis": null},
  "order": [{"field": "IQ", "type": "quantitative"}, {"field": "Density", "type": "quantitative"}],
  "fill": {"field": "Gender", "type": "nominal", "scale": {"domain": ["male", "female"], "range": ["#333333", "#cccccc"]}, "legend": {"title": "Gender", "orient": "none", "legendX": 2692, "legendY": 313, "symbolType": "M-1,-1H2.33V1H-1Z", "symbolSize": 1971, "symbolStrokeColor": "#333333", "symbolStrokeWidth": 2.5, "labelFontSize": 43.5, "labelColor": "#000000", "labelOffset": 43.6, "titleFontSize": 48, "titleFontWeight": "normal", "titleColor": "#000000", "titlePadding": 4, "rowPadding": -5.8, "padding": 0}}
 }},
{"transform": [{"filter": "datum.Gender == 'male' && datum.Year != '1992'"}],
 "mark": {"type": "area", "orient": "horizontal", "interpolate": "step-after", "stroke": "#333333", "strokeWidth": 4},
 "encoding": {
  "y": {"field": "IQ", "type": "quantitative"},
  "x": {"field": "Density", "type": "quantitative", "stack": null, "scale": {"domain": [0, 40], "range": [31.65, 71.65], "nice": false}, "axis": null},
  "order": [{"field": "IQ", "type": "quantitative"}, {"field": "Density", "type": "quantitative"}],
  "fill": {"field": "Gender", "type": "nominal"}
 }},
{"transform": [{"filter": "datum.Gender == 'male' && datum.Year == '1992'"}],
 "mark": {"type": "area", "orient": "horizontal", "interpolate": "step-after", "stroke": "#333333", "strokeWidth": 4},
 "encoding": {
  "y": {"field": "IQ", "type": "quantitative"},
  "x": {"field": "Density", "type": "quantitative", "stack": null, "scale": {"domain": [0, 40], "range": [57.65, 17.65], "nice": false}, "axis": null},
  "order": [{"field": "IQ", "type": "quantitative"}, {"field": "Density", "type": "quantitative"}],
  "fill": {"field": "Gender", "type": "nominal"}
 }},
{"transform": [{"filter": "datum.Gender == 'male' && datum.Year == '1992'"}],
 "mark": {"type": "area", "orient": "horizontal", "interpolate": "step-after", "stroke": "#333333", "strokeWidth": 4},
 "encoding": {
  "y": {"field": "IQ", "type": "quantitative"},
  "x": {"field": "Density", "type": "quantitative", "stack": null, "scale": {"domain": [0, 40], "range": [57.65, 97.65], "nice": false}, "axis": null},
  "order": [{"field": "IQ", "type": "quantitative"}, {"field": "Density", "type": "quantitative"}],
  "fill": {"field": "Gender", "type": "nominal"}
 }},
{"transform": [{"filter": "datum.Gender == 'female'"}],
 "mark": {"type": "area", "orient": "horizontal", "interpolate": "step-after", "fill": "#333333", "stroke": "#333333", "strokeWidth": 4},
 "encoding": {
  "y": {"field": "IQ", "type": "quantitative"},
  "x": {"field": "Density", "type": "quantitative", "stack": null, "scale": {"domain": [0, 40], "range": [83.65, 43.65], "nice": false}, "axis": null},
  "order": [{"field": "IQ", "type": "quantitative"}, {"field": "Density", "type": "quantitative"}]
 }},
{"transform": [{"filter": "datum.Gender == 'female'"}],
 "mark": {"type": "area", "orient": "horizontal", "interpolate": "step-after", "fill": "#333333", "stroke": "#333333", "strokeWidth": 4},
 "encoding": {
  "y": {"field": "IQ", "type": "quantitative"},
  "x": {"field": "Density", "type": "quantitative", "stack": null, "scale": {"domain": [0, 40], "range": [83.65, 123.65], "nice": false}, "axis": null},
  "order": [{"field": "IQ", "type": "quantitative"}, {"field": "Density", "type": "quantitative"}]
 }},
{"transform": [{"filter": "datum.Gender == 'female'"}],
 "mark": {"type": "area", "orient": "horizontal", "interpolate": "step-after"},
 "encoding": {
  "y": {"field": "IQ", "type": "quantitative"},
  "x": {"field": "Density", "type": "quantitative", "stack": null, "scale": {"domain": [2, 42], "range": [83.65, 43.65], "nice": false, "zero": false, "clamp": true}, "axis": null},
  "x2": {"datum": 2},
  "order": [{"field": "IQ", "type": "quantitative"}, {"field": "Density", "type": "quantitative"}],
  "fill": {"field": "Gender", "type": "nominal"}
 }},
{"transform": [{"filter": "datum.Gender == 'female'"}],
 "mark": {"type": "area", "orient": "horizontal", "interpolate": "step-after"},
 "encoding": {
  "y": {"field": "IQ", "type": "quantitative"},
  "x": {"field": "Density", "type": "quantitative", "stack": null, "scale": {"domain": [2, 42], "range": [83.65, 123.65], "nice": false, "zero": false, "clamp": true}, "axis": null},
  "x2": {"datum": 2},
  "order": [{"field": "IQ", "type": "quantitative"}, {"field": "Density", "type": "quantitative"}],
  "fill": {"field": "Gender", "type": "nominal"}
 }}
]
}
}
